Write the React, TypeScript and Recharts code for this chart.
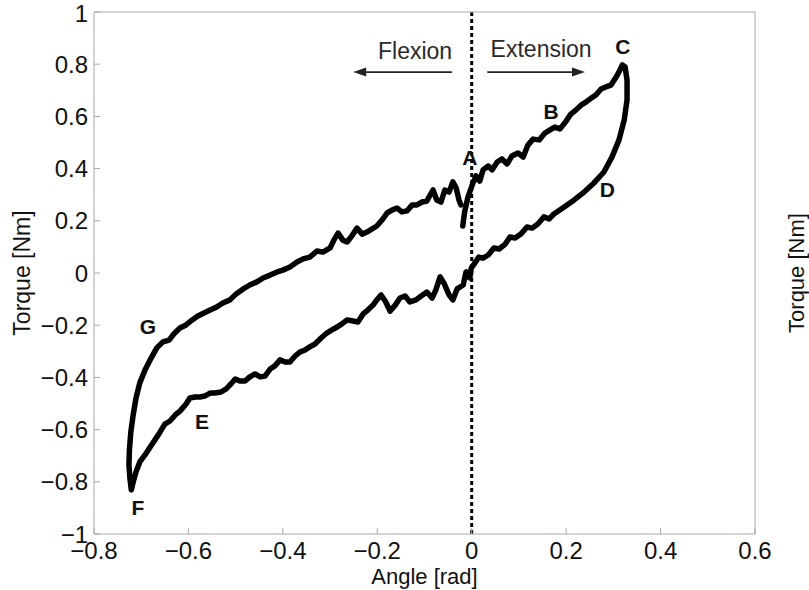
import React from "react";
import { ComposedChart, Line, XAxis, YAxis, ReferenceLine, ReferenceDot } from "recharts";

const FONT = '"Liberation Sans", Arial, Helvetica, sans-serif';

const xTicks = [-0.8, -0.6, -0.4, -0.2, 0, 0.2, 0.4, 0.6];
const yTicks = [-1, -0.8, -0.6, -0.4, -0.2, 0, 0.2, 0.4, 0.6, 0.8, 1];

// [angle rad, torque Nm] — loading towards extension, A -> B -> C
const extensionBranch = [
  [-0.019, 0.18], [-0.015, 0.234], [-0.008, 0.291], [0.001, 0.337], [0.009, 0.372], [0.017, 0.352],
  [0.024, 0.395], [0.035, 0.41], [0.043, 0.395], [0.054, 0.425], [0.064, 0.437], [0.075, 0.418],
  [0.085, 0.448], [0.098, 0.46], [0.109, 0.444], [0.119, 0.49], [0.13, 0.513], [0.143, 0.51],
  [0.155, 0.536], [0.166, 0.548], [0.176, 0.559], [0.187, 0.552], [0.2, 0.582], [0.21, 0.609],
  [0.221, 0.625], [0.232, 0.644], [0.242, 0.655], [0.253, 0.67], [0.263, 0.682], [0.274, 0.705],
  [0.284, 0.713], [0.295, 0.72], [0.306, 0.751], [0.314, 0.778], [0.319, 0.797],
];

// C -> D -> E -> F, going back through zero into flexion
const flexionBranch = [
  [0.325, 0.789], [0.329, 0.739], [0.329, 0.663], [0.323, 0.586], [0.312, 0.51], [0.297, 0.444],
  [0.28, 0.387], [0.259, 0.345], [0.238, 0.31], [0.217, 0.28], [0.196, 0.253], [0.174, 0.226],
  [0.164, 0.207], [0.153, 0.215], [0.14, 0.188], [0.128, 0.172], [0.117, 0.176], [0.104, 0.149],
  [0.092, 0.134], [0.081, 0.138], [0.071, 0.111], [0.058, 0.092], [0.047, 0.096], [0.035, 0.069],
  [0.024, 0.057], [0.015, 0.061], [0.005, 0.034], [-0.001, 0.019], [-0.004, -0.019], [-0.012, 0.004],
  [-0.018, -0.046], [-0.031, -0.061], [-0.04, -0.103], [-0.048, -0.084], [-0.059, -0.038], [-0.067, -0.015],
  [-0.076, -0.065], [-0.084, -0.096], [-0.095, -0.073], [-0.107, -0.088], [-0.118, -0.103], [-0.131, -0.111],
  [-0.141, -0.088], [-0.152, -0.096], [-0.162, -0.123], [-0.173, -0.146], [-0.182, -0.111], [-0.192, -0.084],
  [-0.201, -0.103], [-0.209, -0.123], [-0.22, -0.142], [-0.23, -0.157], [-0.241, -0.188], [-0.251, -0.184],
  [-0.264, -0.18], [-0.275, -0.195], [-0.285, -0.207], [-0.296, -0.218], [-0.307, -0.23], [-0.319, -0.249],
  [-0.332, -0.272], [-0.343, -0.283], [-0.353, -0.295], [-0.364, -0.303], [-0.374, -0.318], [-0.385, -0.341],
  [-0.395, -0.341], [-0.406, -0.333], [-0.417, -0.356], [-0.427, -0.368], [-0.438, -0.395], [-0.448, -0.398],
  [-0.459, -0.387], [-0.47, -0.398], [-0.48, -0.414], [-0.491, -0.414], [-0.501, -0.406], [-0.51, -0.425],
  [-0.52, -0.444], [-0.531, -0.456], [-0.544, -0.46], [-0.554, -0.46], [-0.565, -0.471], [-0.576, -0.475],
  [-0.586, -0.475], [-0.597, -0.479], [-0.605, -0.502], [-0.618, -0.529], [-0.628, -0.544], [-0.639, -0.567],
  [-0.65, -0.579], [-0.66, -0.609], [-0.671, -0.64], [-0.681, -0.667], [-0.692, -0.697], [-0.703, -0.724],
  [-0.711, -0.762], [-0.717, -0.801], [-0.721, -0.831],
];

// F -> G -> back to A
const returnBranch = [
  [-0.724, -0.785], [-0.726, -0.736], [-0.725, -0.678], [-0.722, -0.609], [-0.717, -0.544], [-0.711, -0.479],
  [-0.703, -0.421], [-0.692, -0.372], [-0.679, -0.326], [-0.667, -0.287], [-0.654, -0.264], [-0.641, -0.257],
  [-0.631, -0.234], [-0.618, -0.211], [-0.605, -0.199], [-0.592, -0.18], [-0.58, -0.165], [-0.567, -0.153],
  [-0.554, -0.142], [-0.54, -0.13], [-0.527, -0.115], [-0.512, -0.103], [-0.499, -0.08], [-0.484, -0.061],
  [-0.47, -0.046], [-0.455, -0.034], [-0.442, -0.019], [-0.427, -0.008], [-0.412, 0.004], [-0.4, 0.011],
  [-0.385, 0.023], [-0.37, 0.042], [-0.357, 0.054], [-0.343, 0.061], [-0.328, 0.084], [-0.315, 0.08],
  [-0.3, 0.096], [-0.292, 0.126], [-0.283, 0.153], [-0.273, 0.126], [-0.264, 0.119], [-0.254, 0.142],
  [-0.243, 0.172], [-0.232, 0.149], [-0.222, 0.157], [-0.211, 0.169], [-0.201, 0.18], [-0.19, 0.203],
  [-0.179, 0.23], [-0.169, 0.241], [-0.158, 0.249], [-0.148, 0.234], [-0.137, 0.238], [-0.126, 0.261],
  [-0.116, 0.261], [-0.105, 0.272], [-0.095, 0.276], [-0.082, 0.318], [-0.074, 0.28], [-0.065, 0.272],
  [-0.057, 0.318], [-0.048, 0.31], [-0.04, 0.349], [-0.033, 0.326], [-0.027, 0.28], [-0.023, 0.261],
];

const pointLabels = [
  { text: "A", x: -0.004, y: 0.441 },
  { text: "B", x: 0.168, y: 0.617 },
  { text: "C", x: 0.32, y: 0.866 },
  { text: "D", x: 0.287, y: 0.318 },
  { text: "E", x: -0.571, y: -0.571 },
  { text: "F", x: -0.707, y: -0.897 },
  { text: "G", x: -0.686, y: -0.207 },
];

const directionLabels = [
  { text: "Flexion", x: -0.12, y: 0.851, from: -0.042, to: -0.251, arrowY: 0.77 },
  { text: "Extension", x: 0.147, y: 0.858, from: 0.033, to: 0.24, arrowY: 0.77 },
];

const loop = [...extensionBranch, ...flexionBranch, ...returnBranch].map(([x, y]) => ({ x, y }));

const fmt = (v: number) => (v < 0 ? "\u2212" + Math.abs(v) : String(v));
const blank = () => "";

const Arrow = (props: any) => {
  const { x1, y1, x2, y2 } = props;
  const dx = x2 - x1;
  const dy = y2 - y1;
  const len = Math.hypot(dx, dy) || 1;
  const ux = dx / len;
  const uy = dy / len;
  const bx = x2 - ux * 13;
  const by = y2 - uy * 13;
  return (
    <g>
      <line x1={x1} y1={y1} x2={bx} y2={by} stroke="#222" strokeWidth={1.8} />
      <polygon
        points={`${x2},${y2} ${bx - uy * 4.5},${by + ux * 4.5} ${bx + uy * 4.5},${by - ux * 4.5}`}
        fill="#222"
      />
    </g>
  );
};

const axisGray = "#a8a8a8";
const tickStyle = { fill: "#111", fontSize: 24, fontFamily: FONT };

export default function App() {
  return (
    <div style={{ position: "absolute", left: 0, top: 0, background: "#fff" }}>
      <ComposedChart width={809} height={590} margin={{ top: 0, right: 0, bottom: 0, left: 0 }}>
        <XAxis
          xAxisId="top"
          orientation="top"
          type="number"
          dataKey="x"
          domain={[-0.8, 0.6]}
          ticks={xTicks}
          height={12}
          tickSize={-6}
          tickFormatter={blank}
          stroke={axisGray}
        />
        <XAxis
          type="number"
          dataKey="x"
          domain={[-0.8, 0.6]}
          ticks={xTicks}
          height={56}
          tickSize={-6}
          tickMargin={14}
          tickFormatter={fmt}
          tick={tickStyle}
          stroke={axisGray}
          label={{ value: "Angle [rad]", position: "center", dy: 14, fill: "#111", fontSize: 22, fontFamily: FONT }}
        />
        <YAxis
          type="number"
          domain={[-1, 1]}
          ticks={yTicks}
          width={94}
          tickSize={-6}
          tickMargin={12}
          tickFormatter={fmt}
          tick={tickStyle}
          stroke={axisGray}
          label={{ value: "Torque [Nm]", angle: -90, position: "center", dx: -25, fill: "#111", fontSize: 23, fontFamily: FONT }}
        />
        <YAxis
          yAxisId="right"
          orientation="right"
          type="number"
          domain={[-1, 1]}
          ticks={yTicks}
          width={54}
          tickSize={-6}
          tickFormatter={blank}
          stroke={axisGray}
          label={{ value: "Torque [Nm]", angle: -90, position: "center", dx: 14, fill: "#111", fontSize: 22, fontFamily: FONT }}
        />
        <ReferenceLine x={0} stroke="#000" strokeWidth={3} strokeDasharray="4 3" />
        <Line
          data={loop}
          dataKey="y"
          type="linear"
          stroke="#000"
          strokeWidth={5.5}
          strokeLinejoin="round"
          strokeLinecap="round"
          dot={false}
          activeDot={false}
          isAnimationActive={false}
        />
        {directionLabels.map((d) => (
          <ReferenceLine
            key={d.text + "-arrow"}
            segment={[
              { x: d.from, y: d.arrowY },
              { x: d.to, y: d.arrowY },
            ]}
            shape={Arrow}
          />
        ))}
        {directionLabels.map((d) => (
          <ReferenceDot
            key={d.text}
            x={d.x}
            y={d.y}
            r={1}
            fill="none"
            stroke="none"
            label={{ value: d.text, position: "center", fill: "#2a2a2a", fontSize: 23, fontFamily: FONT }}
          />
        ))}
        {pointLabels.map((p) => (
          <ReferenceDot
            key={p.text}
            x={p.x}
            y={p.y}
            r={1}
            fill="none"
            stroke="none"
            label={{ value: p.text, position: "center", fill: "#111", fontSize: 21, fontWeight: "bold", fontFamily: FONT }}
          />
        ))}
      </ComposedChart>
    </div>
  );
}
